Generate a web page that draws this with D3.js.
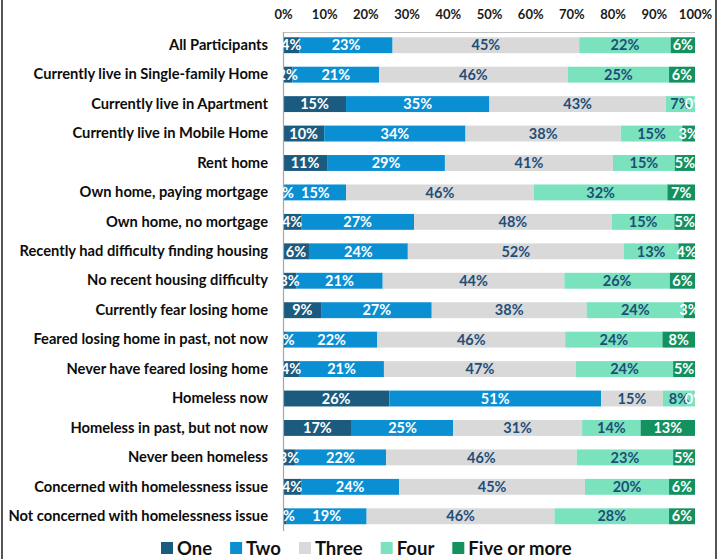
<!DOCTYPE html>
<html>
<head>
<meta charset="utf-8">
<script src="https://cdn.jsdelivr.net/npm/d3@7"></script>
<style>
  body { margin: 0; background: #fff; }
  svg { display: block; font-family: Lato, "Open Sans", sans-serif; }
</style>
</head>
<body>
<div id="chart"></div>
<script>
// categories (top to bottom)
var categories = [
  "All Participants",
  "Currently live in Single-family Home",
  "Currently live in Apartment",
  "Currently live in Mobile Home",
  "Rent home",
  "Own home, paying mortgage",
  "Own home, no mortgage",
  "Recently had difficulty finding housing",
  "No recent housing difficulty",
  "Currently fear losing home",
  "Feared losing home in past, not now",
  "Never have feared losing home",
  "Homeless now",
  "Homeless in past, but not now",
  "Never been homeless",
  "Concerned with homelessness issue",
  "Not concerned with homelessness issue"
];

var seriesNames = ["One", "Two", "Three", "Four", "Five or more"];

// percent of respondents per category
var one   = [4.0, 2.3, 15.3, 10.0, 10.7, 0.4, 4.4, 6.3, 3.2, 9.4, 0.7, 3.9, 25.8, 16.7, 2.9, 4.4, 0.9];
var two   = [22.6, 21.0, 34.8, 34.3, 28.6, 14.9, 27.4, 24.0, 21.0, 26.7, 22.2, 20.6, 51.4, 24.6, 22.1, 23.8, 19.4];
var three = [45.3, 45.8, 42.8, 37.7, 40.8, 45.6, 48.0, 52.4, 44.1, 37.6, 45.6, 46.6, 15.0, 31.3, 46.3, 45.1, 45.6];
var four  = [22.2, 24.6, 7.1, 14.9, 15.0, 32.4, 15.2, 13.3, 25.6, 23.6, 23.6, 23.6, 7.8, 14.2, 23.4, 20.4, 27.8];
var five  = [5.9, 6.3, 0.0, 3.1, 4.9, 6.7, 5.0, 4.0, 6.1, 2.7, 7.9, 5.3, 0.0, 13.2, 5.3, 6.3, 6.3];

var xTicks = [0, 10, 20, 30, 40, 50, 60, 70, 80, 90, 100];

var colors = ["#1c5b80", "#0b8fd3", "#d9d9d9", "#7ae2bd", "#13915f"];
var labelColors = ["#ffffff", "#ffffff", "#1f4e79", "#1f4e79", "#ffffff"];

var width = 722, height = 559;

var rows = categories.map(function (c, i) {
  return { cat: c, One: one[i], Two: two[i], Three: three[i], Four: four[i], "Five or more": five[i] };
});

var svg = d3.select("#chart").append("svg")
  .attr("width", width)
  .attr("height", height);

// frame lines left and right
svg.append("rect").attr("x", 1).attr("y", 0).attr("width", 2).attr("height", height).attr("fill", "#555");
svg.append("rect").attr("x", 715).attr("y", 0).attr("width", 2).attr("height", height).attr("fill", "#555");

var x = d3.scaleLinear().domain([0, 100]).range([283, 695]);
var y = d3.scaleBand().domain(categories).range([30.5, 531]).paddingInner(0.46).paddingOuter(0.23);

// top border of plot
svg.append("line")
  .attr("x1", x(0)).attr("x2", x(100))
  .attr("y1", 32.5).attr("y2", 32.5)
  .attr("stroke", "#bfbfbf").attr("stroke-width", 1);

// tick labels on top
var xAxis = svg.append("g")
  .attr("transform", "translate(0,18.5)")
  .call(d3.axisTop(x).tickValues(xTicks).tickSize(0).tickPadding(0).tickFormat(function (d) { return d + "%"; }));
xAxis.select(".domain").remove();
xAxis.selectAll("text")
  .attr("font-size", "13px")
  .attr("font-weight", "bold")
  .attr("fill", "#1a1a1a")
  .attr("font-family", "Lato, sans-serif");

var stack = d3.stack().keys(seriesNames);
var stacked = stack(rows);

var groups = svg.selectAll(".series")
  .data(stacked)
  .enter().append("g")
  .attr("class", "series")
  .attr("fill", function (d, i) { return colors[i]; });

groups.selectAll("rect")
  .data(function (d) { return d; })
  .enter().append("rect")
  .attr("x", function (d) { return x(d[0]); })
  .attr("y", function (d) { return y(d.data.cat); })
  .attr("width", function (d) { return x(d[1]) - x(d[0]); })
  .attr("height", y.bandwidth());

// vertical axis line
svg.append("line")
  .attr("x1", x(0) + 0.5).attr("x2", x(0) + 0.5)
  .attr("y1", 32).attr("y2", 531)
  .attr("stroke", "#a6a6a6").attr("stroke-width", 1.2);

// category labels
svg.append("g")
  .attr("transform", "translate(268,0)")
  .call(d3.axisLeft(y).tickSize(0).tickPadding(0))
  .call(function (g) { g.select(".domain").remove(); })
  .selectAll("text")
  .attr("font-size", "14.7px")
  .attr("font-weight", "bold")
  .attr("fill", "#0d0d0d")
  .attr("font-family", "Lato, sans-serif");

// value labels, clipped to the plot area
svg.append("clipPath").attr("id", "plotClip")
  .append("rect").attr("x", x(0)).attr("y", 0).attr("width", x(100) - x(0)).attr("height", height);

var labelGroups = svg.append("g").attr("clip-path", "url(#plotClip)")
  .selectAll("g")
  .data(stacked)
  .enter().append("g")
  .attr("fill", function (d, i) { return labelColors[i]; });

labelGroups.selectAll("text")
  .data(function (d) { return d; })
  .enter().append("text")
  .attr("x", function (d) { return x((d[0] + d[1]) / 2); })
  .attr("y", function (d) { return y(d.data.cat) + y.bandwidth() / 2; })
  .attr("dy", "0.36em")
  .attr("text-anchor", "middle")
  .attr("font-size", "14.5px")
  .attr("font-weight", "bold")
  .text(function (d) { return d3.format(".0f")(d[1] - d[0]) + "%"; });

// legend
var legend = svg.append("g").attr("transform", "translate(161,548)");
var lx = 0;
seriesNames.forEach(function (name, i) {
  var item = legend.append("g").attr("transform", "translate(" + lx + ",0)");
  item.append("rect").attr("x", 0).attr("y", -6).attr("width", 12).attr("height", 12).attr("fill", colors[i]);
  var t = item.append("text")
    .attr("x", 16).attr("dy", "0.36em")
    .attr("font-size", "18.5px")
    .attr("font-weight", "bold")
    .attr("fill", "#111")
    .text(name);
  lx += 16 + t.node().getComputedTextLength() + 18;
});
</script>
</body>
</html>
